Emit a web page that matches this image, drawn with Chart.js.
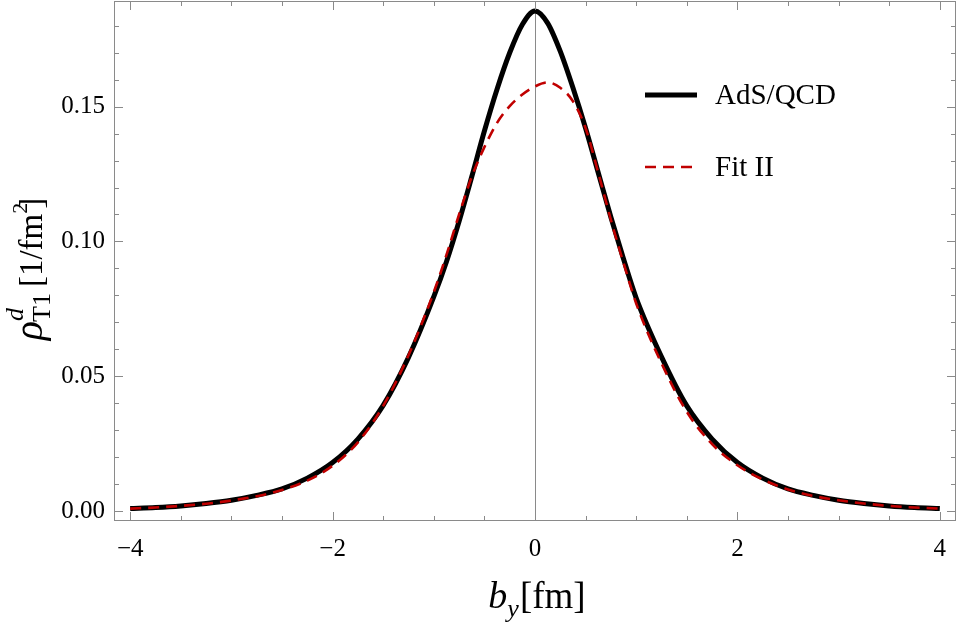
<!DOCTYPE html>
<html>
<head>
<meta charset="utf-8">
<script src="https://cdn.jsdelivr.net/npm/chart.js@4/dist/chart.umd.min.js"></script>
<style>
  html, body { margin: 0; padding: 0; background: #fff; }
  #wrap { width: 959px; height: 625px; }
</style>
</head>
<body>
<div id="wrap"><canvas id="chart" width="959" height="625"></canvas></div>
<script>
// b_y in fm, shared by both curves
const byValues = [-4, -3.75, -3.5, -3.25, -3, -2.75, -2.5, -2.25, -2, -1.75, -1.5,
  -1.25, -1, -0.875, -0.75, -0.625, -0.5, -0.375, -0.25, -0.125, 0, 0.125, 0.25,
  0.375, 0.5, 0.625, 0.75, 0.875, 1, 1.25, 1.5, 1.75, 2, 2.25, 2.5, 2.75, 3, 3.25,
  3.5, 3.75, 4];

// rho^d_T1 in 1/fm^2
const adsQcd = [0.0009, 0.0013, 0.0019, 0.0028, 0.0040, 0.0058, 0.0082, 0.0122,
  0.0180, 0.0267, 0.0392, 0.0570, 0.0795, 0.0925, 0.1075, 0.1240, 0.1410, 0.1565,
  0.1700, 0.1805, 0.1855, 0.1810, 0.1705, 0.1570, 0.1420, 0.1255, 0.1090, 0.0935,
  0.0790, 0.0572, 0.0390, 0.0267, 0.0180, 0.0122, 0.0082, 0.0058, 0.0040, 0.0028,
  0.0019, 0.0013, 0.0009];

const fitII = [0.0009, 0.0013, 0.0019, 0.0027, 0.0039, 0.0055, 0.0078, 0.0113,
  0.0168, 0.0255, 0.0390, 0.0578, 0.0812, 0.0950, 0.1100, 0.1240, 0.1350, 0.1440,
  0.1502, 0.1545, 0.1575, 0.1590, 0.1570, 0.1520, 0.1420, 0.1255, 0.1080, 0.0920,
  0.0770, 0.0548, 0.0368, 0.0248, 0.0170, 0.0117, 0.0080, 0.0056, 0.0040, 0.0028,
  0.0019, 0.0013, 0.0009];

const seriesLabels = ["AdS/QCD", "Fit II"];
const xMajorTicks = [-4, -2, 0, 2, 4];
const yMajorTicks = [0, 0.05, 0.10, 0.15];
const xMinorStep = 0.5;
const yMinorStep = 0.01;

const FONT = "'Liberation Serif', 'DejaVu Serif', serif";
const FRAME = "#8a8a8a";

const toPoints = (ys) => byValues.map((x, i) => ({ x, y: ys[i] }));

// inward ticks on all four sides + the frame box
const frameTicks = {
  id: "frameTicks",
  afterDraw(chart) {
    const { ctx, chartArea: a, scales } = chart;
    const xs = scales.x, ys = scales.y;
    ctx.save();
    ctx.strokeStyle = FRAME;
    ctx.lineWidth = 1;
    ctx.strokeRect(a.left + 0.5, a.top + 0.5, a.right - a.left - 1, a.bottom - a.top - 1);
    ctx.beginPath();
    for (let v = xMajorTicks[0]; v <= xMajorTicks[xMajorTicks.length - 1] + 1e-9; v += xMinorStep) {
      const major = xMajorTicks.some((m) => Math.abs(m - v) < 1e-9);
      const len = major ? 9 : 5;
      const px = Math.round(xs.getPixelForValue(v)) + 0.5;
      ctx.moveTo(px, a.bottom); ctx.lineTo(px, a.bottom - len);
      ctx.moveTo(px, a.top); ctx.lineTo(px, a.top + len);
    }
    for (let v = 0; v <= ys.max + 1e-9; v += yMinorStep) {
      const major = yMajorTicks.some((m) => Math.abs(m - v) < 1e-9);
      const len = major ? 9 : 5;
      const py = Math.round(ys.getPixelForValue(v)) + 0.5;
      ctx.moveTo(a.left, py); ctx.lineTo(a.left + len, py);
      ctx.moveTo(a.right, py); ctx.lineTo(a.right - len, py);
    }
    ctx.stroke();
    ctx.restore();
  },
};

// axis titles with sub/superscripts
function drawRuns(ctx, runs, x, y) {
  let cx = x;
  runs.forEach((r) => {
    ctx.font = r.font;
    ctx.fillText(r.text, cx, y + (r.dy || 0));
    cx += ctx.measureText(r.text).width + (r.gap || 0);
  });
}
function runsWidth(ctx, runs) {
  return runs.reduce((w, r) => { ctx.font = r.font; return w + ctx.measureText(r.text).width + (r.gap || 0); }, 0);
}

const axisTitles = {
  id: "axisTitles",
  afterDraw(chart) {
    const { ctx, chartArea: a } = chart;
    ctx.save();
    ctx.fillStyle = "#000";
    ctx.textBaseline = "alphabetic";
    ctx.textAlign = "left";

    const xRuns = [
      { text: "b", font: `italic 38px ${FONT}` },
      { text: "y", font: `italic 26px ${FONT}`, dy: 9, gap: 1 },
      { text: "[fm]", font: `37px ${FONT}` },
    ];
    const cx = (a.left + a.right) / 2 + 2;
    drawRuns(ctx, xRuns, cx - runsWidth(ctx, xRuns) / 2, 608);

    const yRuns = [
      { text: "ρ", font: `italic 40px ${FONT}` },
      { text: "d", font: `italic 26px ${FONT}`, dy: -19, gap: -14 },
      { text: "T1", font: `26px ${FONT}`, dy: 8, gap: 6 },
      { text: "[1/fm", font: `33px ${FONT}` },
      { text: "2", font: `22px ${FONT}`, dy: -15, gap: -6 },
      { text: "]", font: `33px ${FONT}` },
    ];
    ctx.translate(42, (a.top + a.bottom) / 2 + 8);
    ctx.rotate(-Math.PI / 2);
    drawRuns(ctx, yRuns, -runsWidth(ctx, yRuns) / 2, 0);
    ctx.restore();
  },
};

// legend in the upper right of the plot
const insetLegend = {
  id: "insetLegend",
  afterDraw(chart) {
    const { ctx } = chart;
    const rows = [95, 167];
    ctx.save();
    chart.data.datasets.forEach((ds, i) => {
      const y = rows[i];
      ctx.strokeStyle = ds.borderColor;
      ctx.lineWidth = ds.borderWidth;
      ctx.setLineDash(ds.borderDash || []);
      ctx.lineCap = "butt";
      ctx.beginPath();
      ctx.moveTo(645, y);
      ctx.lineTo(697, y);
      ctx.stroke();
      ctx.setLineDash([]);
      ctx.fillStyle = "#000";
      ctx.font = `29px ${FONT}`;
      ctx.textBaseline = "middle";
      ctx.fillText(ds.label, 715, y + 1);
    });
    ctx.restore();
  },
};

new Chart(document.getElementById("chart"), {
  type: "line",
  data: {
    datasets: [
      {
        label: seriesLabels[0],
        data: toPoints(adsQcd),
        borderColor: "#000",
        borderWidth: 5,
        pointRadius: 0,
        cubicInterpolationMode: "monotone",
        order: 2,
      },
      {
        label: seriesLabels[1],
        data: toPoints(fitII),
        borderColor: "#c00000",
        borderWidth: 2.6,
        borderDash: [11, 7],
        pointRadius: 0,
        cubicInterpolationMode: "monotone",
        order: 1,
      },
    ],
  },
  options: {
    responsive: false,
    animation: false,
    devicePixelRatio: 1,
    layout: { padding: { top: 1, right: 3, left: 0, bottom: 0 } },
    plugins: { legend: { display: false }, tooltip: { enabled: false } },
    scales: {
      x: {
        type: "linear",
        min: -4.16,
        max: 4.16,
        afterBuildTicks: (s) => { s.ticks = xMajorTicks.map((v) => ({ value: v })); },
        afterFit: (s) => { s.height = 104; s.paddingLeft = 0; s.paddingRight = 0; },
        grid: {
          drawTicks: false,
          color: (c) => (c.tick && c.tick.value === 0 ? FRAME : "rgba(0,0,0,0)"),
          lineWidth: 1,
        },
        border: { display: false },
        ticks: {
          padding: 13,
          color: "#000",
          font: { family: FONT, size: 25 },
          maxRotation: 0,
          callback: (v) => (v < 0 ? "\u2212" + Math.abs(v) : String(v)),
        },
      },
      y: {
        type: "linear",
        min: -0.0037,
        max: 0.1892,
        afterBuildTicks: (s) => { s.ticks = yMajorTicks.map((v) => ({ value: v })); },
        afterFit: (s) => { s.width = 114; s.paddingTop = 0; s.paddingBottom = 0; },
        grid: { display: false, drawTicks: false },
        border: { display: false },
        ticks: {
          padding: 9,
          color: "#000",
          font: { family: FONT, size: 25 },
          callback: (v) => Number(v).toFixed(2),
        },
      },
    },
  },
  plugins: [frameTicks, axisTitles, insetLegend],
});
</script>
</body>
</html>
